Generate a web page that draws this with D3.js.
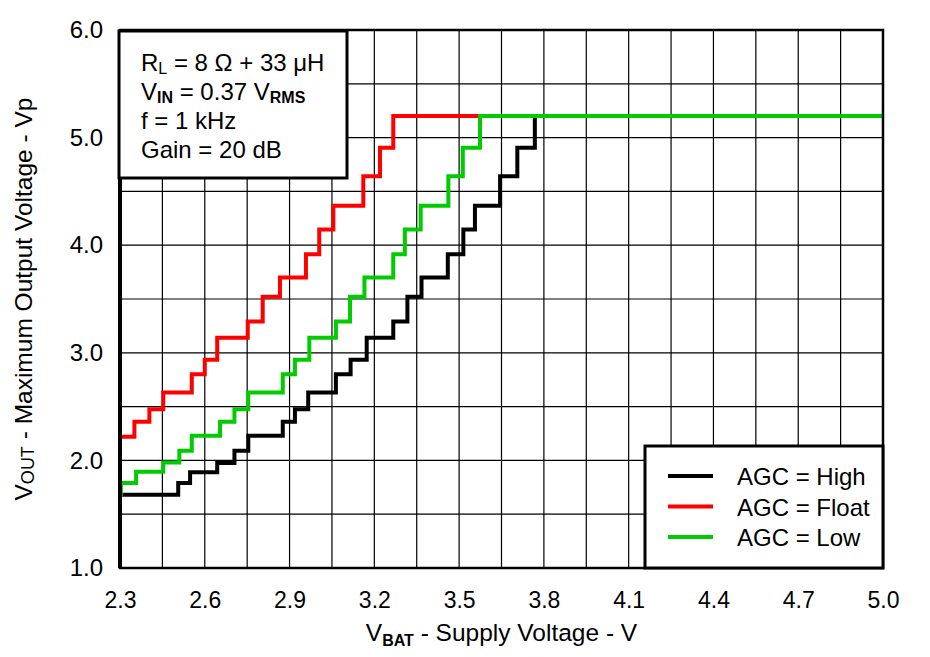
<!DOCTYPE html>
<html>
<head>
<meta charset="utf-8">
<script src="https://cdnjs.cloudflare.com/ajax/libs/d3/7.8.5/d3.min.js"></script>
<style>
   body { margin: 0; background: #fff; }
   svg text { font-family: "Liberation Sans", Arial, sans-serif; fill: #000; }
</style>
</head>
<body>
<svg id="chart" width="930" height="657"></svg>
<script>
// tick labels
var xTicks = [2.3, 2.6, 2.9, 3.2, 3.5, 3.8, 4.1, 4.4, 4.7, 5.0];
var yTicks = [1, 2, 3, 4, 5, 6];

// step points [supply V, max output Vp] - level holds until the next point
var agcHigh = [[2.30, 1.68], [2.506, 1.79], [2.548, 1.89], [2.644, 1.975], [2.705, 2.09], [2.754, 2.23],
   [2.876, 2.36], [2.919, 2.475], [2.966, 2.63], [3.064, 2.80], [3.116, 2.935], [3.173, 3.14],
   [3.267, 3.29], [3.317, 3.52], [3.367, 3.70], [3.460, 3.915], [3.515, 4.145], [3.556, 4.367],
   [3.645, 4.64], [3.706, 4.906], [3.768, 5.20], [5.0, 5.20]];
var agcFloat = [[2.30, 2.22], [2.351, 2.36], [2.404, 2.475], [2.453, 2.63], [2.554, 2.80], [2.600, 2.935],
   [2.644, 3.14], [2.752, 3.29], [2.805, 3.52], [2.866, 3.70], [2.958, 3.915], [3.005, 4.145],
   [3.055, 4.367], [3.161, 4.64], [3.220, 4.906], [3.267, 5.20], [5.0, 5.20]];
var agcLow = [[2.30, 1.68], [2.303, 1.79], [2.357, 1.895], [2.453, 1.98], [2.510, 2.09], [2.554, 2.23],
   [2.654, 2.36], [2.705, 2.475], [2.754, 2.63], [2.876, 2.80], [2.919, 2.935], [2.970, 3.14],
   [3.064, 3.29], [3.114, 3.52], [3.165, 3.70], [3.267, 3.915], [3.308, 4.145], [3.364, 4.367],
   [3.462, 4.64], [3.513, 4.906], [3.574, 5.20], [5.0, 5.20]];

var seriesNames = ["AGC = High", "AGC = Float", "AGC = Low"];
var seriesColors = ["#000000", "#ff0000", "#00cc00"];
var seriesData = [agcHigh, agcFloat, agcLow];

var svg = d3.select("#chart"),
   margin = {top: 30, right: 47, bottom: 89, left: 120},
   width = +svg.attr("width") - margin.left - margin.right,
   height = +svg.attr("height") - margin.top - margin.bottom;

svg.append("rect").attr("width", 930).attr("height", 657).attr("fill", "#fff");

var g = svg.append("g").attr("transform", "translate(" + margin.left + "," + margin.top + ")");

var x = d3.scaleLinear().domain([2.3, 5.0]).range([0, width]);
var y = d3.scaleLinear().domain([1, 6]).range([height, 0]);

// grid: every 0.15 V across, every 0.5 Vp up
var xGrid = d3.range(1, 18).map(function (i) { return 2.3 + i * 0.15; });
var yGrid = d3.range(1, 10).map(function (i) { return 1 + i * 0.5; });

g.append("g").selectAll("line").data(xGrid).enter().append("line")
 .attr("x1", function (d) { return x(d); }).attr("x2", function (d) { return x(d); })
 .attr("y1", 0).attr("y2", height)
 .attr("stroke", "#000").attr("stroke-width", 1.2);

g.append("g").selectAll("line").data(yGrid).enter().append("line")
 .attr("y1", function (d) { return y(d); }).attr("y2", function (d) { return y(d); })
 .attr("x1", 0).attr("x2", width)
 .attr("stroke", "#000").attr("stroke-width", 1.2);

// axes (labels only)
var xAxis = g.append("g")
 .attr("transform", "translate(0," + height + ")")
 .call(d3.axisBottom(x).tickValues(xTicks).tickSize(0).tickPadding(24).tickFormat(d3.format(".1f")));
xAxis.select(".domain").remove();
xAxis.selectAll("text").style("font-size", "23px").style("font-family", "'Liberation Sans', Arial, sans-serif");

var yAxis = g.append("g")
 .call(d3.axisLeft(y).tickValues(yTicks).tickSize(0).tickPadding(17).tickFormat(d3.format(".1f")));
yAxis.select(".domain").remove();
yAxis.selectAll("text").style("font-size", "24px").style("font-family", "'Liberation Sans', Arial, sans-serif");

// series
var line = d3.line()
   .x(function (d) { return x(d[0]); })
   .y(function (d) { return y(d[1]); })
   .curve(d3.curveStepAfter);

seriesData.forEach(function (s, i) {
   g.append("path")
    .datum(s)
    .attr("d", line)
    .attr("fill", "none")
    .attr("stroke", seriesColors[i])
    .attr("stroke-width", 4);
});

// plot frame
g.append("rect")
 .attr("width", width).attr("height", height)
 .attr("fill", "none").attr("stroke", "#000").attr("stroke-width", 2.5);
g.append("line")
 .attr("x1", 0).attr("x2", 0).attr("y1", 0).attr("y2", height)
 .attr("stroke", "#000").attr("stroke-width", 4);

// conditions box
var note = g.append("g");
note.append("rect")
 .attr("x", -1).attr("y", 1).attr("width", 228).attr("height", 147)
 .attr("fill", "#fff").attr("stroke", "#000").attr("stroke-width", 3);

var noteLines = note.append("g").attr("transform", "translate(21,0)").style("font-size", "24px");
var t1 = noteLines.append("text").attr("y", 40.5);
t1.append("tspan").text("R");
t1.append("tspan").attr("dy", 3).style("font-size", "16px").text("L");
t1.append("tspan").attr("dy", -3).text(" = 8 \u03A9 + 33 \u03BCH");
var t2 = noteLines.append("text").attr("y", 69.5);
t2.append("tspan").text("V");
t2.append("tspan").attr("dy", 3).style("font-size", "16px").style("font-weight", "bold").text("IN");
t2.append("tspan").attr("dy", -3).text(" = 0.37 V");
t2.append("tspan").attr("dy", 3).style("font-size", "16px").style("font-weight", "bold").text("RMS");
noteLines.append("text").attr("y", 98.5).text("f = 1 kHz");
noteLines.append("text").attr("y", 127.5).text("Gain = 20 dB");

// legend
var legend = g.append("g").attr("transform", "translate(" + (width - 238) + "," + (height - 122) + ")");
legend.append("rect")
 .attr("width", 238).attr("height", 122)
 .attr("fill", "#fff").attr("stroke", "#000").attr("stroke-width", 3);
seriesNames.forEach(function (name, i) {
   var row = legend.append("g").attr("transform", "translate(0," + (30 + i * 30.5) + ")");
   row.append("line")
    .attr("x1", 23).attr("x2", 68).attr("y1", 0).attr("y2", 0)
    .attr("stroke", seriesColors[i]).attr("stroke-width", 4);
   row.append("text")
    .attr("x", 92).attr("y", 9)
    .style("font-size", "24px")
    .text(name);
});

// axis titles
var xTitle = svg.append("text")
 .attr("x", margin.left + width / 2).attr("y", 641)
 .attr("text-anchor", "middle")
 .style("font-size", "24.5px");
xTitle.append("tspan").text("V");
xTitle.append("tspan").attr("dy", 5).style("font-size", "16px").style("font-weight", "bold").text("BAT");
xTitle.append("tspan").attr("dy", -5).text(" - Supply Voltage - V");

var yTitle = svg.append("text")
 .attr("transform", "translate(32," + (margin.top + height / 2) + ") rotate(-90)")
 .attr("text-anchor", "middle")
 .style("font-size", "24.5px");
yTitle.append("tspan").text("V");
yTitle.append("tspan").attr("dy", 2).style("font-size", "18px").text("OUT");
yTitle.append("tspan").attr("dy", -2).text(" - Maximum Output Voltage - Vp");
</script>
</body>
</html>
